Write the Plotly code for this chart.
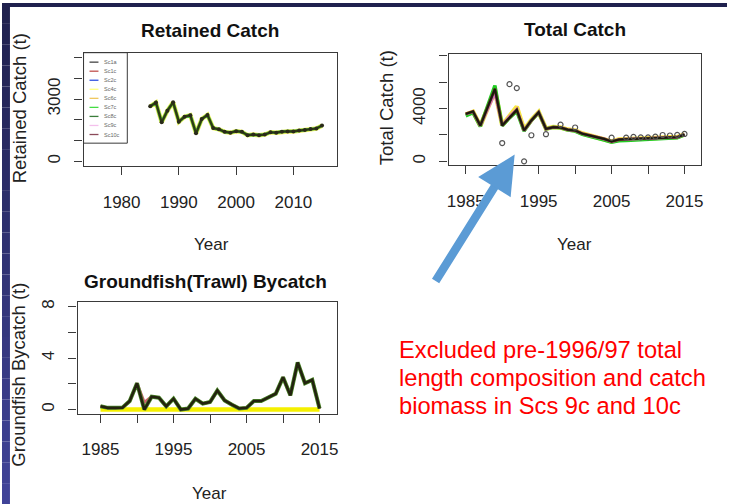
import plotly.graph_objects as go

# ---------------- data ----------------
years = list(range(1985, 2016))

retained_sc1a = [2650, 2830, 1880, 2440, 2840, 1910, 2150, 2220, 1350, 2040, 2230, 1600, 1540,
                 1420, 1380, 1450, 1420, 1260, 1290, 1260, 1290, 1400, 1380, 1430, 1440, 1440,
                 1480, 1510, 1560, 1580, 1720]

total_sc1a = [3600, 3780, 2720, 4100, 5500, 2720, 3350, 3900, 2340, 3100, 3720, 2460, 2590,
              2560, 2400, 2340, 2100, 1960, 1850, 1700, 1500, 1650, 1680, 1700, 1720, 1750,
              1760, 1790, 1800, 1830, 2040]
total_sc7c = [3450, 3700, 2650, 4200, 5750, 2700, 3300, 3800, 2300, 3100, 3700, 2450, 2580,
              2540, 2380, 2300, 2050, 1900, 1780, 1620, 1450, 1560, 1580, 1600, 1620, 1640,
              1660, 1700, 1740, 1780, 2000]
total_sc4c = [3550, 3760, 2700, 4050, 5350, 2750, 3500, 4150, 2400, 3150, 3750, 2480, 2600,
              2570, 2410, 2350, 2110, 1970, 1860, 1710, 1520, 1660, 1690, 1710, 1730, 1760,
              1770, 1800, 1810, 1840, 2050]
total_sc11c = [3580, 3770, 2700, 3950, 5200, 2720, 3400, 3950, 2340, 3100, 3720, 2460, 2590,
               2560, 2400, 2340, 2100, 1960, 1850, 1700, 1500, 1650, 1680, 1700, 1720, 1750,
               1760, 1790, 1800, 1830, 2040]
obs_years = [1990, 1991, 1992, 1993, 1994, 1996, 1998, 2000, 2005, 2007, 2008, 2009, 2010,
             2011, 2012, 2013, 2014, 2015]
obs_total = [1390, 5860, 5560, 0, 1980, 2060, 2790, 2570, 1800, 1800, 1860, 1820, 1820,
             1870, 2000, 1960, 2010, 2080]

bycatch_sc1a = [0.25, 0.13, 0.13, 0.15, 0.66, 2.04, 0.0, 1.0, 0.92, 0.25, 0.84, 0.0, 0.08,
                0.84, 0.46, 0.58, 1.48, 0.71, 0.38, 0.08, 0.13, 0.66, 0.66, 0.92, 1.23, 2.5,
                1.1, 3.65, 2.04, 2.3, 0.08]
bycatch_sc1c = [0.25, 0.13, 0.13, 0.15, 0.66, 2.04, 0.55, 1.0, 0.92, 0.25, 0.84, 0.0, 0.08,
                0.84, 0.46, 0.58, 1.48, 0.71, 0.38, 0.08, 0.13, 0.66, 0.66, 0.92, 1.23, 2.5,
                1.1, 3.65, 2.04, 2.3, 0.08]
bycatch_sc4c = [0.0] * 31

legend_names = ["Sc1a", "Sc1c", "Sc2c", "Sc4c", "Sc6c", "Sc7c", "Sc8c", "Sc9c", "Sc10c"]
legend_colors = ["#444444", "#c0504d", "#3050e0", "#ffff80", "#f0c860", "#44dd44",
                 "#3a7d3a", "#f4c0ec", "#8b4a5a"]

# ---------------- figure ----------------
FONT = "Liberation Sans"
fig = go.Figure()


def add_line(x, y, xa, ya, color, width, mode="lines", marker=None):
    fig.add_trace(go.Scatter(x=x, y=y, xaxis=xa, yaxis=ya, mode=mode,
                             line=dict(color=color, width=width),
                             marker=marker, showlegend=False, hoverinfo="skip"))


# Retained catch
add_line(years, retained_sc1a, "x", "y", "#f2f060", 4.5)
add_line(years, retained_sc1a, "x", "y", "#4caf3c", 3.2)
add_line(years, retained_sc1a, "x", "y", "#2f3a12", 2.2, mode="lines+markers",
         marker=dict(size=4, color="#2a2a1a"))

# Total catch
add_line(years, total_sc4c, "x2", "y2", "#f6e640", 4.5)
add_line(years, total_sc7c, "x2", "y2", "#22cc22", 3.5)
add_line(years, total_sc11c, "x2", "y2", "#d070c0", 3.0)
add_line(years, total_sc1a, "x2", "y2", "#6b3a20", 2.8)
add_line(years, total_sc1a, "x2", "y2", "#1a1a0e", 2.0)
fig.add_trace(go.Scatter(x=obs_years, y=obs_total, xaxis="x2", yaxis="y2", mode="markers",
                         marker=dict(symbol="circle-open", size=5, color="#555555",
                                     line=dict(width=1.2)),
                         showlegend=False, hoverinfo="skip"))

# Groundfish bycatch
add_line(years, bycatch_sc4c, "x3", "y3", "#f5f000", 4.5)
add_line(years, bycatch_sc1c, "x3", "y3", "#d06070", 3.0)
add_line(years, bycatch_sc1a, "x3", "y3", "#4c8a2c", 4.0)
add_line(years, bycatch_sc1a, "x3", "y3", "#23230f", 2.6)

W, H = 729, 504


def px(xp):
    return xp / W


def py(yp):
    return 1 - yp / H


axis_common = dict(showline=True, linecolor="#3a3a3a", linewidth=1.3, mirror=True,
                   ticks="outside", ticklen=8, tickcolor="#3a3a3a", tickwidth=1.1,
                   showgrid=False, zeroline=False,
                   tickfont=dict(family=FONT, size=17, color="#222222"))

fig.update_layout(
    width=W, height=H, margin=dict(l=0, r=0, t=0, b=0),
    paper_bgcolor="white", plot_bgcolor="white", showlegend=False,
    xaxis=dict(domain=[px(82), px(337)], range=[1973.36, 2017.64], anchor="y",
               tickvals=[1980, 1990, 2000, 2010], ticklabelstandoff=12, **axis_common),
    yaxis=dict(domain=[py(164), py(50)], range=[-225, 5230], anchor="x",
               tickvals=[0, 1000, 2000, 3000, 4000, 5000],
               ticktext=["0", "", "", "3000", "", ""], tickangle=-90,
               ticklabelstandoff=8, **axis_common),
    xaxis2=dict(domain=[px(449), px(703)], range=[1982.64, 2017.28], anchor="y2",
                tickvals=[1985, 1990, 1995, 2000, 2005, 2010, 2015],
                ticktext=["1985", "", "1995", "", "2005", "", "2015"],
                ticklabelstandoff=12, **axis_common),
    yaxis2=dict(domain=[py(163), py(51)], range=[-280, 8170], anchor="x2",
                tickvals=[0, 2000, 4000, 6000, 8000],
                ticktext=["0", "", "4000", "", ""], tickangle=-90,
                ticklabelstandoff=8, **axis_common),
    xaxis3=dict(domain=[px(76), px(337)], range=[1981.86, 2017.41], anchor="y3",
                tickvals=[1985, 1990, 1995, 2000, 2005, 2010, 2015],
                ticktext=["1985", "", "1995", "", "2005", "", "2015"],
                ticklabelstandoff=12, **axis_common),
    yaxis3=dict(domain=[py(413), py(301)], range=[-0.31, 8.33], anchor="x3",
                tickvals=[0, 2, 4, 6, 8], ticktext=["0", "", "4", "", "8"], tickangle=-90,
                ticklabelstandoff=8, **axis_common),
)

shapes = []
# slide background strips
shapes.append(dict(type="rect", xref="paper", yref="paper", x0=0, x1=1, y0=py(4), y1=1,
                   fillcolor="#20214e", line=dict(width=0), layer="above"))
n = 24
for i in range(n):
    t = i / (n - 1)
    r = int(0x20 + (0x40 - 0x20) * t)
    g = int(0x21 + (0x43 - 0x21) * t)
    b = int(0x4e + (0x98 - 0x4e) * t)
    shapes.append(dict(type="rect", xref="paper", yref="paper", x0=0, x1=px(8),
                       y0=1 - (i + 1) / n, y1=1 - i / n, fillcolor=f"rgb({r},{g},{b})",
                       line=dict(width=0), layer="above"))

# legend box inside the Retained Catch panel
shapes.append(dict(type="rect", xref="paper", yref="paper", x0=px(82), x1=px(126),
                   y0=py(141), y1=py(50), line=dict(color="#3a3a3a", width=1),
                   fillcolor="rgba(0,0,0,0)"))
annotations = []
for i, (nm, col) in enumerate(zip(legend_names, legend_colors)):
    yy = 59.5 + i * 9.1
    shapes.append(dict(type="line", xref="paper", yref="paper", x0=px(88), x1=px(97),
                       y0=py(yy), y1=py(yy), line=dict(color=col, width=1.3)))
    annotations.append(dict(text=nm, x=px(101), y=py(yy), xref="paper", yref="paper",
                            xanchor="left", yanchor="middle", showarrow=False,
                            font=dict(family=FONT, size=5.5, color="#666666")))

# titles
for txt, xc, yc in [("Retained Catch", 209, 28), ("Total Catch", 576, 27),
                    ("Groundfish(Trawl) Bycatch", 205, 280)]:
    annotations.append(dict(text=f"<b>{txt}</b>", x=px(xc), y=py(yc), xref="paper",
                            yref="paper", xanchor="center", yanchor="middle",
                            showarrow=False, font=dict(family=FONT, size=19, color="#111111")))
# x axis titles
for xc, yc in [(211, 243), (576, 243), (209, 493)]:
    annotations.append(dict(text="Year", x=px(xc), y=py(yc), xref="paper", yref="paper",
                            xanchor="center", yanchor="middle", showarrow=False,
                            font=dict(family=FONT, size=17, color="#222222")))
# y axis titles
for txt, xc, yc in [("Retained Catch (t)", 17, 106), ("Total Catch (t)", 386, 105),
                    ("Groundfish Bycatch (t)", 17, 374)]:
    annotations.append(dict(text=txt, x=px(xc), y=py(yc), xref="paper", yref="paper",
                            xanchor="center", yanchor="middle", textangle=-90,
                            showarrow=False, font=dict(family=FONT, size=18.5, color="#222222")))

# arrow
annotations.append(dict(text="", x=px(515.5), y=py(152.5), xref="paper", yref="paper",
                        ax=-80, ay=128, showarrow=True, arrowhead=2, arrowsize=0.9,
                        arrowwidth=8.5, arrowcolor="#5b9bd5"))

# red note
note_lines = ["Excluded pre-1996/97 total", "length composition and catch",
              "biomass in Scs 9c and 10c"]
for i, ln in enumerate(note_lines):
    annotations.append(dict(text=ln, x=px(397), y=py(349 + i * 28), xref="paper",
                            yref="paper", xanchor="left", yanchor="middle",
                            showarrow=False, font=dict(family=FONT, size=23.7, color="#ff0000")))

fig.update_layout(shapes=shapes, annotations=annotations)
fig.write_html("out.html", config={"displayModeBar": False},
               post_script="document.body.style.margin='0';document.body.style.overflow='hidden';")
